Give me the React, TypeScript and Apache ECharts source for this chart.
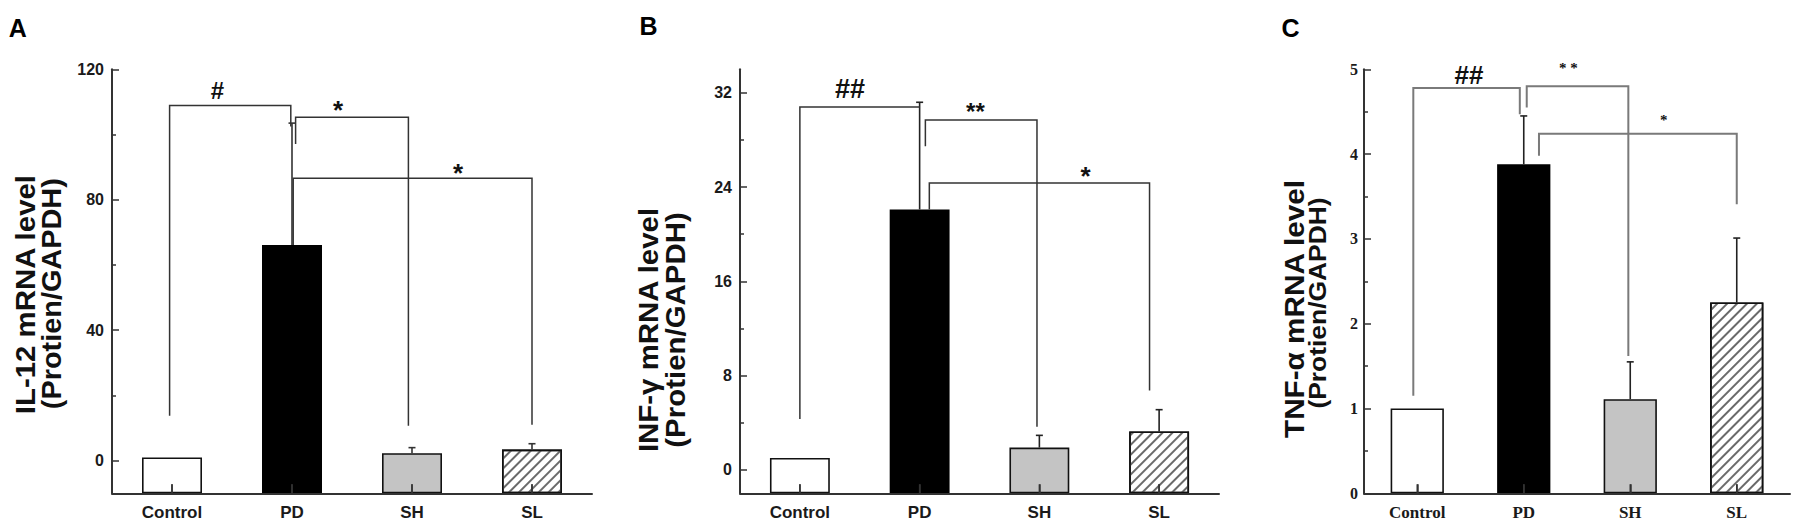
import React, { useEffect, useRef } from 'react';
import * as echarts from 'echarts';

// ---------- data ----------
const CATEGORIES = ['Control', 'PD', 'SH', 'SL'];

const IL12_MEAN = [1, 66.1, 2.3, 3.4];
const IL12_UPPER = [1, 103.5, 4.0, 5.2];
const INF_MEAN = [1, 22.1, 1.88, 3.25];
const INF_UPPER = [1, 31.2, 2.92, 5.1];
const TNF_MEAN = [1, 3.88, 1.11, 2.25];
const TNF_UPPER = [1, 4.45, 1.55, 3.01];

const IL12_TICKS = [0, 40, 80, 120];
const IL12_MINOR = [20, 60, 100];
const INF_TICKS = [0, 8, 16, 24, 32];
const INF_MINOR = [4, 12, 20, 28];
const TNF_TICKS = [0, 1, 2, 3, 4, 5];
const TNF_MINOR = [0.5, 1.5, 2.5, 3.5, 4.5];

// significance brackets: [fromCategory, toCategory, topValue, fromEndValue, toEndValue]
const IL12_BRACKETS = [
  [-0.02, 0.99, 108.9, 13.8, 102.5],
  [1.03, 1.97, 105.3, 97.1, 10.7],
  [1.01, 3.0, 86.6, 66.1, 11.0],
];
const INF_BRACKETS = [
  [0.0, 1.0, 30.8, 4.3, 30.8],
  [1.048, 1.98, 29.7, 27.46, 3.65],
  [1.081, 2.92, 24.35, 22.1, 6.73],
];
const TNF_BRACKETS = [
  [-0.037, 0.963, 4.78, 1.15, 4.47],
  [1.028, 1.982, 4.8, 4.55, 1.62],
  [1.143, 3.0, 4.24, 3.98, 3.41],
];

// significance marks: text and [category, value] of the glyph centre
const IL12_MARKS = ['#', '*', '*'];
const IL12_MARK_POS = [[0.378, 113.6], [1.383, 109.3], [2.384, 90.0]];
const INF_MARKS = ['##', '**', '*'];
const INF_MARK_POS = [[0.418, 32.3], [1.466, 30.83], [2.385, 25.42]];
const TNF_MARKS = ['##', '* *', '*'];
const TNF_MARK_POS = [[0.486, 4.93], [1.418, 5.05], [2.315, 4.44]];

const Y_TITLES = [
  ['IL-12 mRNA level', '(Protien/GAPDH)'],
  ['INF-γ mRNA level', '(Protien/GAPDH)'],
  ['TNF-α mRNA level', '(Protien/GAPDH)'],
];
const PANEL_LETTERS = ['A', 'B', 'C'];

// ---------- styles ----------
const SANS = '"Liberation Sans", Arial, Helvetica, sans-serif';
const SERIF = '"Liberation Serif", "Times New Roman", Times, serif';

const BAR_STYLES: any[] = [
  { color: '#ffffff', borderColor: '#111', borderWidth: 1.6 },
  { color: '#000000', borderColor: '#000', borderWidth: 1.6 },
  { color: '#c4c4c4', borderColor: '#111', borderWidth: 1.6 },
  {
    color: '#ffffff', borderColor: '#111', borderWidth: 1.6,
    decal: {
      symbol: 'rect', symbolSize: 1, dashArrayX: [1, 0], dashArrayY: [1.2, 4.2],
      rotation: -Math.PI / 4, color: '#6a6a6a',
    },
  },
];

const PANELS = [
  {
    mean: IL12_MEAN, upper: IL12_UPPER, ticks: IL12_TICKS, minor: IL12_MINOR, min: -10, max: 120,
    brackets: IL12_BRACKETS, marks: IL12_MARKS, markPos: IL12_MARK_POS,
    grid: { left: 112, top: 69.3, width: 480, height: 424 },
    labelFont: SANS, yLabelSize: 16, xLabelSize: 17, yLabelMargin: 8,
    markFont: [SANS, SANS, SANS], markSize: [24, 26, 26],
    lineColor: '#333', lineWidth: 1.5, errColor: '#333',
    letter: { x: 17.7, y: 27.8 },
    titles: [{ x: 25, y: 294.6, size: 27, sx: 1.09 }, { x: 51.4, y: 293.7, size: 27, sx: 1.07 }],
  },
  {
    mean: INF_MEAN, upper: INF_UPPER, ticks: INF_TICKS, minor: INF_MINOR, min: -2, max: 34,
    brackets: INF_BRACKETS, marks: INF_MARKS, markPos: INF_MARK_POS,
    grid: { left: 740, top: 69.3, width: 479, height: 424 },
    labelFont: SANS, yLabelSize: 16, xLabelSize: 17, yLabelMargin: 8,
    markFont: [SANS, SANS, SANS], markSize: [27, 24, 26],
    lineColor: '#333', lineWidth: 1.5, errColor: '#222',
    letter: { x: 648.5, y: 26 },
    titles: [{ x: 648.5, y: 330, size: 27, sx: 1.09 }, { x: 675.2, y: 330, size: 27, sx: 1.09 }],
  },
  {
    mean: TNF_MEAN, upper: TNF_UPPER, ticks: TNF_TICKS, minor: TNF_MINOR, min: 0, max: 5,
    brackets: TNF_BRACKETS, marks: TNF_MARKS, markPos: TNF_MARK_POS,
    grid: { left: 1364, top: 69.3, width: 426, height: 424 },
    labelFont: SERIF, yLabelSize: 16, xLabelSize: 17, yLabelMargin: 6,
    markFont: [SANS, SERIF, SERIF], markSize: [26, 15, 15],
    lineColor: '#7a7a7a', lineWidth: 2, errColor: '#222',
    letter: { x: 1290.5, y: 28 },
    titles: [{ x: 1294.3, y: 309, size: 27, sx: 1.1 }, { x: 1317, y: 303, size: 24, sx: 1.1 }],
  },
];

function buildOption() {
  const grid: any[] = [];
  const xAxis: any[] = [];
  const yAxis: any[] = [];
  const series: any[] = [];
  const graphic: any[] = [];

  PANELS.forEach((cfg, p) => {
    grid.push({ ...cfg.grid, containLabel: false, outerBoundsMode: 'none' });

    xAxis.push({
      type: 'category', gridIndex: p, data: CATEGORIES, z: 10, position: 'bottom',
      axisLine: { show: true, onZero: false, lineStyle: { color: '#333', width: 2 } },
      axisTick: { show: true, inside: true, alignWithLabel: true, length: 9, lineStyle: { color: '#333', width: 1.5 } },
      axisLabel: {
        interval: 0, margin: 11, fontSize: cfg.xLabelSize, fontWeight: 'bold',
        fontFamily: cfg.labelFont, color: '#1a1a1a',
      },
      splitLine: { show: false },
    });

    yAxis.push({
      type: 'value', gridIndex: p, min: cfg.min, max: cfg.max, z: 10, position: 'left', offset: 0,
      axisLine: { show: true, onZero: false, lineStyle: { color: '#333', width: 2 } },
      axisTick: { show: true, inside: true, length: 7, customValues: cfg.ticks, lineStyle: { color: '#333', width: 1.5 } },
      axisLabel: {
        show: true, customValues: cfg.ticks, margin: cfg.yLabelMargin, fontSize: cfg.yLabelSize,
        fontWeight: 'bold', fontFamily: cfg.labelFont, color: '#1a1a1a',
      },
      splitLine: { show: false },
    });
    yAxis.push({
      type: 'value', gridIndex: p, min: cfg.min, max: cfg.max, z: 10, position: 'left', offset: 0,
      axisLine: { show: false, onZero: false },
      axisLabel: { show: false },
      splitLine: { show: false },
      axisTick: { show: true, inside: true, length: 4, customValues: cfg.minor, lineStyle: { color: '#333', width: 1.5 } },
    });

    const yIdx = p * 2;
    // invisible base so that bars start at the axis minimum
    series.push({
      type: 'bar', xAxisIndex: p, yAxisIndex: yIdx, stack: 's' + p, stackStrategy: 'all',
      barWidth: '50%', silent: true, z: 2,
      data: CATEGORIES.map(() => cfg.min),
      itemStyle: { color: 'rgba(0,0,0,0)', borderWidth: 0 },
    });
    series.push({
      type: 'bar', xAxisIndex: p, yAxisIndex: yIdx, stack: 's' + p, stackStrategy: 'all',
      barWidth: '50%', z: 2,
      data: cfg.mean.map((v, i) => ({ value: v - cfg.min, itemStyle: BAR_STYLES[i] })),
    });

    // error bars (upper only) plus the short stub at each bar's foot
    series.push({
      type: 'custom', xAxisIndex: p, yAxisIndex: yIdx, z: 4, silent: true,
      data: CATEGORIES.map((_, i) => [i, cfg.mean[i], cfg.upper[i]]),
      renderItem: (params: any, api: any) => {
        const i = api.value(0);
        const v = api.value(1);
        const u = api.value(2);
        const foot = api.coord([i, cfg.min]);
        const st = { stroke: cfg.errColor, lineWidth: 1.6 };
        const children: any[] = [
          { type: 'line', shape: { x1: foot[0], y1: foot[1], x2: foot[0], y2: foot[1] - 9 }, style: { stroke: '#333', lineWidth: 1.5 } },
        ];
        if (u > v) {
          const a = api.coord([i, v]);
          const b = api.coord([i, u]);
          children.push(
            { type: 'line', shape: { x1: a[0], y1: a[1], x2: b[0], y2: b[1] }, style: st },
            { type: 'line', shape: { x1: b[0] - 3.5, y1: b[1], x2: b[0] + 3.5, y2: b[1] }, style: st },
          );
        }
        return { type: 'group', children };
      },
    });

    // significance brackets
    series.push({
      type: 'custom', xAxisIndex: p, yAxisIndex: yIdx, z: 5, silent: true,
      data: cfg.brackets.map((b) => [Math.round(b[0]), b[2], b[0], b[1], b[3], b[4]]),
      renderItem: (params: any, api: any) => {
        const band = api.size([1, 0])[0];
        const xAt = (c: number) => {
          const r = Math.round(c);
          return api.coord([r, 0])[0] + (c - r) * band;
        };
        const yAt = (v: number) => api.coord([0, v])[1];
        const x1 = xAt(api.value(2));
        const x2 = xAt(api.value(3));
        const yt = yAt(api.value(1));
        const y1 = yAt(api.value(4));
        const y2 = yAt(api.value(5));
        return {
          type: 'polyline',
          shape: { points: [[x1, y1], [x1, yt], [x2, yt], [x2, y2]] },
          style: { stroke: cfg.lineColor, lineWidth: cfg.lineWidth, fill: 'none' },
        };
      },
    });

    // significance marks
    series.push({
      type: 'custom', xAxisIndex: p, yAxisIndex: yIdx, z: 6, silent: true,
      data: cfg.markPos.map((m) => [Math.round(m[0]), m[1], m[0]]),
      renderItem: (params: any, api: any) => {
        const k = params.dataIndex;
        const band = api.size([1, 0])[0];
        const c = api.value(2);
        const r = Math.round(c);
        const x = api.coord([r, 0])[0] + (c - r) * band;
        const text = cfg.marks[k];
        const size = cfg.markSize[k];
        const font = cfg.markFont[k];
        let y = api.coord([0, api.value(1)])[1];
        if (text.indexOf('*') >= 0) y += size * (font === SERIF ? 0.19 : 0.22);
        return {
          type: 'text', x, y,
          style: {
            text, fontSize: size, fontWeight: 'bold', fontFamily: font, fill: '#111',
            align: 'center', verticalAlign: 'middle',
          },
        };
      },
    });

    // panel letter
    graphic.push({
      type: 'text', x: cfg.letter.x, y: cfg.letter.y, silent: true,
      style: {
        text: PANEL_LETTERS[p], fontSize: 25, fontWeight: 'bold', fontFamily: SANS, fill: '#000',
        align: 'center', verticalAlign: 'middle',
      },
    });
    // y-axis title (two lines)
    Y_TITLES[p].forEach((line, j) => {
      const t = cfg.titles[j];
      graphic.push({
        type: 'text', x: t.x, y: t.y, rotation: Math.PI / 2, scaleX: t.sx, scaleY: 1, silent: true,
        style: {
          text: line, fontSize: t.size, fontWeight: 'bold', fontFamily: SANS, fill: '#111',
          align: 'center', verticalAlign: 'middle',
        },
      });
    });
  });

  return {
    animation: false,
    backgroundColor: '#ffffff',
    grid, xAxis, yAxis, series, graphic,
  };
}

export default function App() {
  const ref = useRef<HTMLDivElement>(null);
  useEffect(() => {
    if (!ref.current) return;
    const chart = echarts.init(ref.current, null, { renderer: 'svg' });
    chart.setOption(buildOption() as any);
    return () => chart.dispose();
  }, []);
  return (
    <div
      ref={ref}
      style={{ position: 'fixed', left: 0, top: 0, width: 1800, height: 528, background: '#fff' }}
    />
  );
}
